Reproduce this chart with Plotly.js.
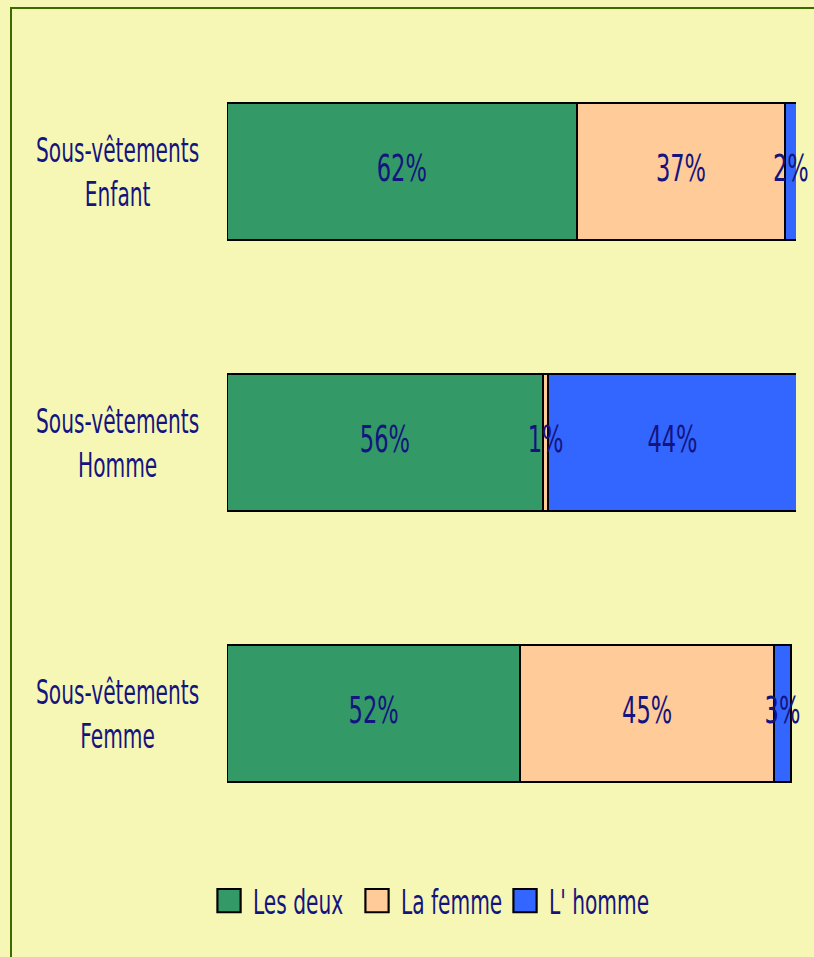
<!DOCTYPE html>
<html>
<head>
<meta charset="utf-8">
<script src="https://cdn.plot.ly/plotly-3.0.1.min.js"></script>
<style>
  html, body { margin: 0; padding: 0; background: #F6F7B5; }
  #chart { width: 814px; height: 957px; }
  #chart .annotation-text, #chart .textpoint text {
    transform-box: fill-box;
    transform-origin: center;
    transform: scaleX(0.66);
  }
  #chart .legendtext {
    transform-box: fill-box;
    transform-origin: left center;
    transform: translateX(4px) scaleX(0.66);
  }
  #chart .legendpoints path.scatterpts {
    transform: translate(20px, 0px) scale(1.45);
  }
</style>
</head>
<body>
<div id="chart"></div>
<script>
// Data
var categories = ['Sous-vêtements<br>Enfant', 'Sous-vêtements<br>Homme', 'Sous-vêtements<br>Femme'];
var seriesNames = ['Les deux', 'La femme', "L' homme"];
var lesDeux = [62, 56, 52];
var laFemme = [37, 1, 45];
var lHomme = [2, 44, 3];

var colors = ['#339966', '#FFCC99', '#3366FF'];
var textColor = '#14147F';
var fontFamily = '"DejaVu Sans Condensed", "DejaVu Sans", sans-serif';
var bg = '#F6F7B5';

var seriesValues = [lesDeux, laFemme, lHomme];

var traces = [];
var cumulative = categories.map(function () { return 0; });
var labelX = [], labelY = [], labelText = [];
seriesValues.forEach(function (vals, i) {
  traces.push({
    type: 'bar',
    orientation: 'h',
    name: seriesNames[i],
    y: categories,
    x: vals,
    marker: { color: colors[i], line: { color: '#000000', width: 2 } },
    showlegend: false,
    hoverinfo: 'skip'
  });
  vals.forEach(function (v, j) {
    labelX.push(cumulative[j] + v / 2);
    labelY.push(categories[j]);
    labelText.push(v + '%');
    cumulative[j] += v;
  });
});
// value labels, centred in each segment
traces.push({
  type: 'scatter',
  mode: 'text',
  x: labelX,
  y: labelY,
  text: labelText,
  textposition: 'middle center',
  textfont: { family: fontFamily, size: 38, color: textColor },
  cliponaxis: false,
  showlegend: false,
  hoverinfo: 'skip'
});
// legend entries
seriesNames.forEach(function (n, i) {
  traces.push({
    type: 'scatter',
    mode: 'markers',
    name: n,
    x: [null],
    y: [null],
    marker: { symbol: 'square', size: 16, color: colors[i], line: { color: '#000000', width: 1.5 } },
    showlegend: true,
    hoverinfo: 'skip'
  });
});

var annotations = categories.map(function (c) {
  return {
    xref: 'paper', yref: 'y',
    x: -0.1933, y: c,
    xanchor: 'center', yanchor: 'middle',
    align: 'center',
    text: c,
    showarrow: false,
    font: { family: fontFamily, size: 34, color: textColor }
  };
});

var layout = {
  width: 814,
  height: 957,
  margin: { l: 227, r: 18, t: 36, b: 108, pad: 0 },
  paper_bgcolor: bg,
  plot_bgcolor: bg,
  barmode: 'stack',
  bargap: 0.495,
  font: { family: fontFamily, color: textColor },
  xaxis: { range: [0, 100.9], visible: false, showgrid: false, zeroline: false, fixedrange: true },
  yaxis: {
    type: 'category',
    categoryorder: 'array',
    categoryarray: categories,
    autorange: 'reversed',
    visible: false, showgrid: false, zeroline: false, fixedrange: true
  },
  showlegend: true,
  legend: {
    orientation: 'h',
    traceorder: 'normal',
    x: -0.0316, xanchor: 'left',
    y: -0.064, yanchor: 'middle',
    entrywidth: 103,
    entrywidthmode: 'pixels',
    bgcolor: 'rgba(0,0,0,0)',
    font: { family: fontFamily, size: 34, color: textColor },
    itemclick: false, itemdoubleclick: false
  },
  annotations: annotations,
  shapes: [{
    type: 'rect', xref: 'paper', yref: 'paper',
    x0: -0.3796, x1: 2, y0: -1, y1: 1.0344,
    line: { color: '#3D6B00', width: 2 },
    fillcolor: 'rgba(0,0,0,0)',
    layer: 'below'
  }]
};

Plotly.newPlot('chart', traces, layout, { displayModeBar: false, staticPlot: true });
</script>
</body>
</html>
